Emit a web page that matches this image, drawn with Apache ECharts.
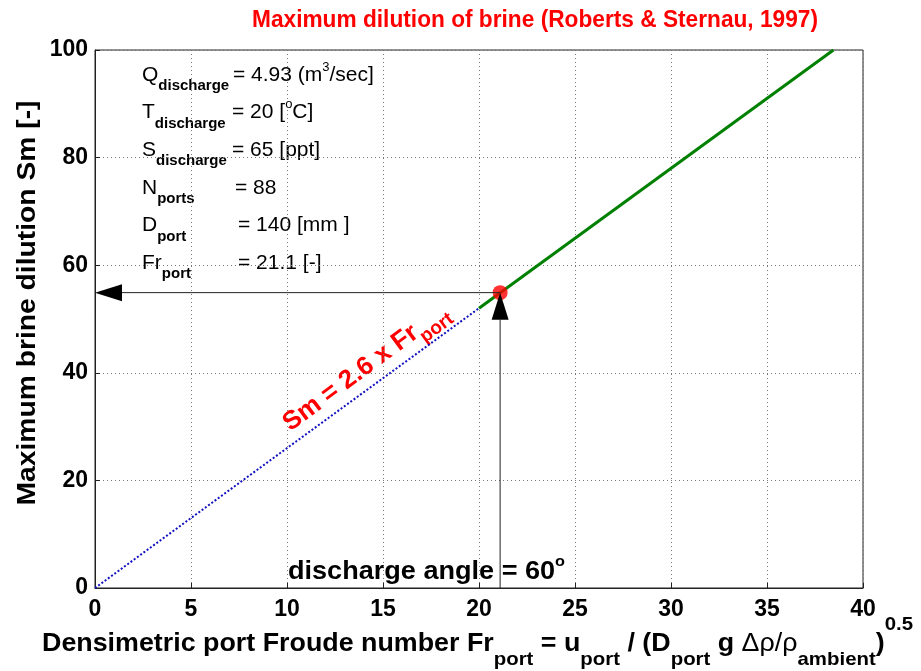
<!DOCTYPE html>
<html>
<head>
<meta charset="utf-8">
<script src="https://cdn.jsdelivr.net/npm/echarts@6/dist/echarts.min.js"></script>
<style>html,body{margin:0;padding:0;background:#fff}#c{width:921px;height:671px}</style>
</head>
<body>
<div id="c"></div>
<script>
// ---- data ----
const xMin = 0, xMax = 40, xInterval = 5;
const yMin = 0, yMax = 100, yInterval = 20;
const dottedFr = [0, 20];
const dottedSm = [0, 52];
const solidFr = [20, 38.46];
const solidSm = [52, 100];
const pointFr = [21.1];
const pointSm = [54.9];
const arrowFromFr = [21.1, 21.1];
const arrowFromSm = [54.9, 0];
const arrowToFr = [0, 21.1];
const arrowToSm = [54.9, 54.9];
const titleText = 'Maximum dilution of brine (Roberts & Sternau, 1997)';
const yTitleText = 'Maximum brine dilution Sm [-]';
const infoRows = [
  {base: 'Q', sub: 'discharge', value: [['= 4.93 (m', 'n'], ['3', 'sup'], ['/sec]', 'n']]},
  {base: 'T', sub: 'discharge', value: [['= 20 [', 'n'], ['o', 'sup'], ['C]', 'n']]},
  {base: 'S', sub: 'discharge', value: [['= 65 [ppt]', 'n']]},
  {base: 'N', sub: 'ports', value: [['= 88', 'n']]},
  {base: 'D', sub: 'port', value: [['= 140 [mm ]', 'n']]},
  {base: 'Fr', sub: 'port', value: [['= 21.1 [-]', 'n']]}
];
const infoValueX = [233, 232, 232, 235, 238, 238];

// ---- helpers ----
const FF = '"Liberation Sans", Arial, Helvetica, sans-serif';
const mc = document.createElement('canvas').getContext('2d');
function measure(t, size, weight) { mc.font = weight + ' ' + size + 'px ' + FF; return mc.measureText(t).width; }
function richGroup(parts, o) {
  let cx = 0; const kids = [];
  parts.forEach(p => {
    if (p.x !== undefined) cx = p.x;
    const weight = p.w || 'bold';
    kids.push({type: 'text', x: cx, y: p.dy || 0,
      style: {text: p.t, fontSize: p.size, fontWeight: weight, fontFamily: FF,
              fill: o.color || '#000', align: 'left', verticalAlign: 'middle'}});
    cx += measure(p.t, p.size, weight);
  });
  const sx = o.fitWidth ? o.fitWidth / cx : 1;
  if (o.center) { kids.forEach(k => k.x -= cx / 2); }
  return {type: 'group', x: o.x, y: o.y, rotation: o.rotation || 0, scaleX: sx, children: kids, z: 100};
}

const graphics = [];
// title
graphics.push(richGroup([{t: titleText, size: 24}], {x: 535, y: 20, center: true, fitWidth: 566, color: '#ff0000'}));
// y-axis title
graphics.push(richGroup([{t: yTitleText, size: 25}], {x: 28, y: 303, center: true, fitWidth: 405, rotation: Math.PI / 2}));
// x-axis title
const B = 25, S = 19;
graphics.push(richGroup([
  {t: 'Densimetric port Froude number Fr', size: B},
  {t: 'port', size: S, dy: 16},
  {t: ' = u', size: B},
  {t: 'port', size: S, dy: 16},
  {t: ' / (D', size: B},
  {t: 'port', size: S, dy: 16},
  {t: ' g ', size: B},
  {t: '\u0394\u03C1/\u03C1', size: B, w: 'normal'},
  {t: 'ambient', size: S, dy: 16},
  {t: ')', size: B},
  {t: '0.5', size: S, dy: -19}
], {x: 42, y: 644, fitWidth: 871}));
// info block
infoRows.forEach((r, i) => {
  const parts = [{t: r.base, size: 21, w: 'normal'}, {t: r.sub, size: 15, dy: 11}];
  r.value.forEach((v, j) => {
    const p = v[1] === 'sup' ? {t: v[0], size: 13, w: 'normal', dy: -8} : {t: v[0], size: 21, w: 'normal'};
    if (j === 0) p.x = infoValueX[i] - 142;
    parts.push(p);
  });
  graphics.push(richGroup(parts, {x: 142, y: 75 + i * 37.6}));
});
// rotated formula
graphics.push(richGroup([
  {t: 'Sm = 2.6 x Fr', size: 26},
  {t: 'port', size: 19, dy: 11}
], {x: 286, y: 426, rotation: 36.5 * Math.PI / 180, color: '#ff0000'}));
// discharge angle
graphics.push(richGroup([
  {t: 'discharge angle = 60', size: 25},
  {t: 'o', size: 15, dy: -10}
], {x: 288, y: 572, fitWidth: 277}));

const chart = echarts.init(document.getElementById('c'), null, {renderer: 'canvas'});
const axisCommon = {
  type: 'value',
  axisLine: {show: true, lineStyle: {color: '#222', width: 1}},
  axisTick: {show: true, inside: true, length: 5, lineStyle: {color: '#222'}},
  splitLine: {show: true, lineStyle: {type: [1, 3], color: '#777', width: 1}},
  axisLabel: {fontSize: 23, fontWeight: 'bold', fontFamily: FF, color: '#000'}
};
const arrowData = arrowFromFr.map((v, i) => [v, arrowFromSm[i], arrowToFr[i], arrowToSm[i]]);
chart.setOption({
  animation: false,
  backgroundColor: '#fff',
  grid: {left: 95, right: 58, top: 50, bottom: 83, show: true, borderColor: '#222', borderWidth: 1, containLabel: false},
  xAxis: Object.assign({}, axisCommon, {min: xMin, max: xMax, interval: xInterval,
    axisLabel: Object.assign({}, axisCommon.axisLabel, {margin: 10})}),
  yAxis: Object.assign({}, axisCommon, {min: yMin, max: yMax, interval: yInterval,
    axisLabel: Object.assign({}, axisCommon.axisLabel, {margin: 7})}),
  series: [
    {type: 'line', data: dottedFr.map((v, i) => [v, dottedSm[i]]), symbol: 'none',
     lineStyle: {type: [2, 2], color: '#1010c0', width: 2}, z: 2},
    {type: 'line', data: solidFr.map((v, i) => [v, solidSm[i]]), symbol: 'none',
     lineStyle: {color: '#008000', width: 3}, z: 3},
    {type: 'scatter', data: pointFr.map((v, i) => [v, pointSm[i]]), symbol: 'circle', symbolSize: 15,
     itemStyle: {color: '#ff0000'}, z: 4},
    {type: 'custom', data: arrowData, z: 5, clip: false,
     renderItem: function (params, api) {
       const a = api.coord([api.value(0), api.value(1)]);
       const b = api.coord([api.value(2), api.value(3)]);
       const dx = b[0] - a[0], dy = b[1] - a[1];
       const L = Math.hypot(dx, dy);
       const ux = dx / L, uy = dy / L;
       const hl = 27, hw = 8.5;
       const base = [b[0] - ux * hl, b[1] - uy * hl];
       const px = -uy, py = ux;
       return {type: 'group', children: [
         {type: 'line', shape: {x1: a[0], y1: a[1], x2: base[0], y2: base[1]}, style: {stroke: '#222', lineWidth: 1}},
         {type: 'polygon', shape: {points: [b, [base[0] + px * hw, base[1] + py * hw], [base[0] - px * hw, base[1] - py * hw]]},
          style: {fill: '#000'}}
       ]};
     }}
  ],
  graphic: graphics
});
</script>
</body>
</html>
